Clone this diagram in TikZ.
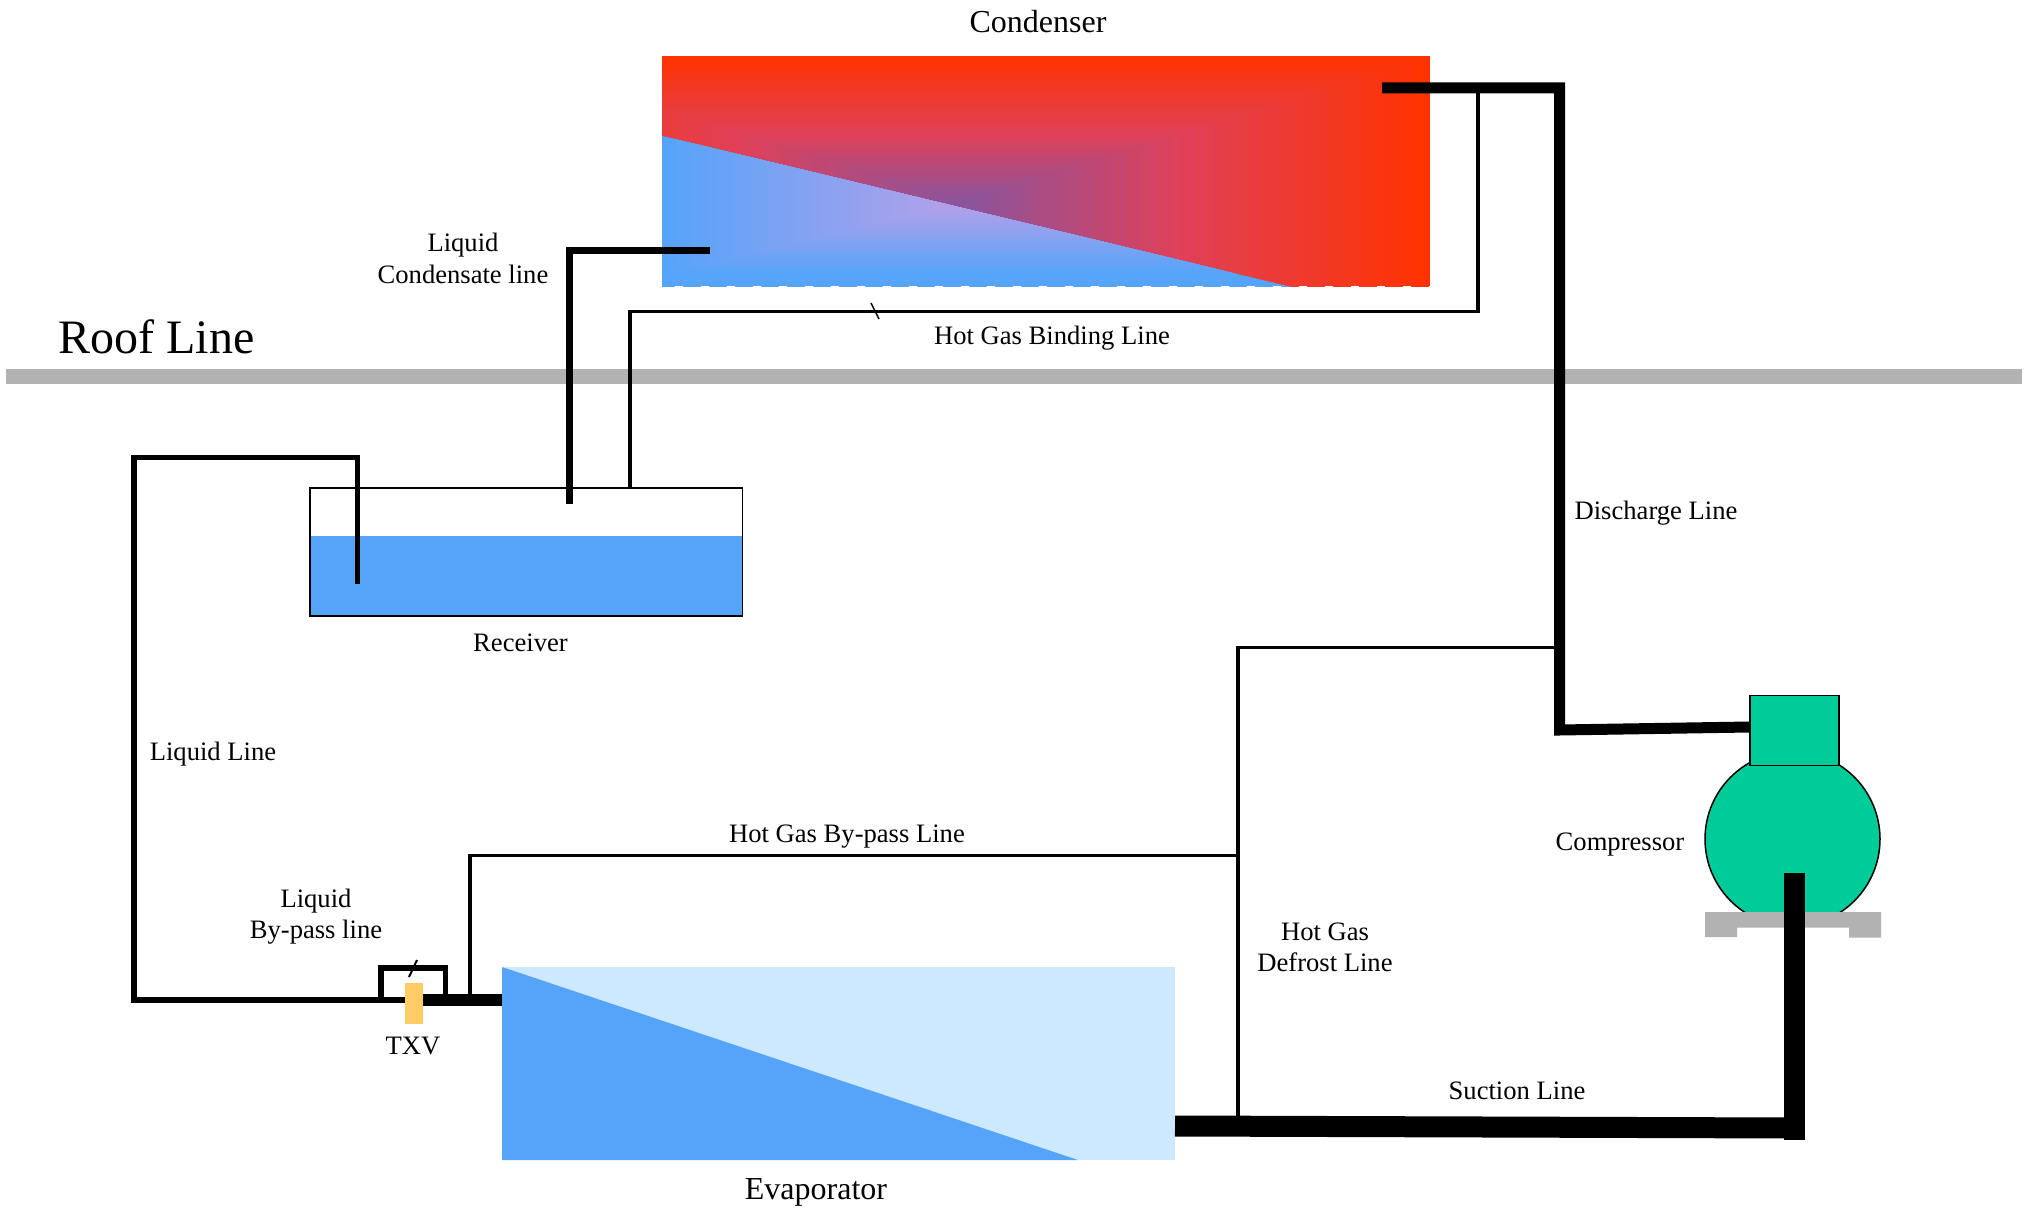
\documentclass[tikz,border=0pt]{standalone}
\usepackage{fontspec}
\setmainfont{Liberation Serif}
\usetikzlibrary{calc}
\definecolor{wblue}{HTML}{55A4FA}
\definecolor{wlight}{HTML}{CCE9FF}
\definecolor{wred}{HTML}{FF3300}
\definecolor{wpink}{HTML}{E04058}
\definecolor{wgreen}{HTML}{00CC99}
\definecolor{wgray}{HTML}{B2B2B2}
\definecolor{wyellow}{HTML}{FFCC66}
\definecolor{midup}{HTML}{8855A0}
\definecolor{midlow}{HTML}{B8A0E8}
\tikzset{
  x=0.5pt,y=-0.5pt,
  lbl/.style={font=\fontsize{13.3}{15.6}\selectfont,align=center,inner sep=0pt},
  biglbl/.style={font=\fontsize{16}{18}\selectfont,inner sep=0pt},
  roof/.style={font=\fontsize{24}{28}\selectfont,inner sep=0pt,anchor=west},
  pipeA/.style={line width=2.75pt,line join=miter},
  pipeL/.style={line width=3.75pt,line join=miter},
  pipeB/.style={line width=5.5pt,line join=miter},
  pipeC/.style={line width=10.5pt},
  pipeT/.style={line width=1.75pt,line join=miter},
  pipeH/.style={line width=1.75pt,line join=miter},
  tick/.style={line width=0.7pt},
  box/.style={inner sep=0pt,outer sep=0pt},
}
\begin{document}
\begin{tikzpicture}
\useasboundingbox (0,0) rectangle (2025,1209);
% Condenser
\begin{scope}
  \clip (662,56) rectangle (1430,287);
  \begin{scope}
    \clip (662,56) -- (1430,56) -- (1430,287) -- (1291.5,287) -- (662,136) -- cycle;
    \foreach \i in {0,...,59}{
      \pgfmathsetmacro{\t}{\i/60}
      \pgfmathsetmacro{\p}{\t<0.52 ? 100*\t/0.52 : 100*(\t-0.52)/0.48}
      \ifdim\t pt<0.52pt
        \colorlet{cc}{wpink!\p!wred}
      \else
        \colorlet{cc}{midup!\p!wpink}
      \fi
      \fill[cc] ({492+\t*469},{56+\t*147}) rectangle ({1430-\t*469},{350-\t*147});
    }
  \end{scope}
  \begin{scope}
    \clip (662,136) -- (1291.5,287) -- (662,287) -- cycle;
    \foreach \i in {0,...,59}{
      \pgfmathsetmacro{\t}{\i/60}
      \pgfmathsetmacro{\p}{100*\t}
      \colorlet{cc}{midlow!\p!wblue}
      \fill[cc] ({662+\t*299},{56+\t*147}) rectangle ({1430-\t*469},{275-\t*72});
    }
    \fill[wblue] (662,275) rectangle (1430,287);
  \end{scope}
\end{scope}
\draw[white,line width=0.5pt,dash pattern=on 4pt off 9pt] (675,286.5) -- (1430,286.5);
\node[box,minimum width=384pt,minimum height=115.5pt] (condenser) at (1046,171.5) {};
\node[biglbl] (condenserlabel) at (1038,22) {Condenser};
% Roof
\fill[wgray] (6,369.5) rectangle (2022,384);
\node[roof] (rooflabel) at (58,336.5) {Roof Line};
% Receiver
\fill[wblue] (310,536) rectangle (742.5,616);
\node[box,draw=black,line width=0.75pt,minimum width=216.25pt,minimum height=64pt] (receiver) at (526.25,552) {};
\node[lbl] (receiverlabel) at (520.5,643) {Receiver};
% Evaporator
\fill[wlight] (502,967) rectangle (1175,1160);
\fill[wblue] (502,967) -- (1078,1160) -- (502,1160) -- cycle;
\node[box,minimum width=336.5pt,minimum height=96.5pt] (evaporator) at (838.5,1063.5) {};
\node[biglbl] (evaporatorlabel) at (816,1192.5) {Evaporator};
% Compressor
\node[circle,draw=black,line width=0.75pt,fill=wgreen,minimum size=87.5pt,inner sep=0pt] (compbody) at (1792.5,839) {};
\node[box,draw=black,line width=0.75pt,fill=wgreen,minimum width=44.5pt,minimum height=35pt] (comphead) at (1794.5,730.5) {};
\fill[wgray] (1705,912) -- (1881,912) -- (1881,937.5) -- (1849,937.5) -- (1849,927.5) -- (1737,927.5) -- (1737,937) -- (1705,937) -- cycle;
% Coordinates
\coordinate (lcA) at (710,250.5);
\coordinate (lcB) at (569.5,250.5);
\coordinate (lcC) at (569.5,503.5);
\coordinate (hbA) at (1478,88);
\coordinate (hbB) at (1478,311.5);
\coordinate (hbC) at (630,311.5);
\coordinate (hbD) at (630,488);
\coordinate (dA) at (1382,88);
\coordinate (dB) at (1559.5,88);
\coordinate (dC) at (1559.5,730);
\coordinate (dD) at (1750,727);
\coordinate (lA) at (357.5,584);
\coordinate (lB) at (357.5,457.5);
\coordinate (lC) at (134,457.5);
\coordinate (lD) at (134,1000);
\coordinate (lE) at (405,1000);
\coordinate (tA) at (422,1000);
\coordinate (tB) at (502,1000);
\coordinate (bA) at (381,1000);
\coordinate (bB) at (381,968);
\coordinate (bC) at (445.5,968);
\coordinate (bD) at (445.5,1000);
\coordinate (gA) at (470,1000);
\coordinate (gB) at (470,855.5);
\coordinate (gC) at (1238,855.5);
\coordinate (fA) at (1238,1122);
\coordinate (fB) at (1238,647.5);
\coordinate (fC) at (1559.5,647.5);
\coordinate (sA) at (1175,1126);
\coordinate (sB) at (1794,1128);
\coordinate (sC) at (1794,873);
\coordinate (sD) at (1794,1140);
% Pipes
\draw[pipeL] (lcA) -- (lcB) -- (lcC);
\draw[pipeT] (hbA) -- (hbB) -- (hbC) -- (hbD);
\draw[pipeB] (dA) -- (dB) -- (dC) -- (dD);
\draw[pipeA] (lA) -- (lB) -- (lC) -- (lD) -- (lE);
\draw[pipeA] (bA) -- (bB) -- (bC) -- (bD);
\draw[pipeH] (gA) -- (gB) -- (gC);
\draw[pipeH] (fA) -- (fB) -- (fC);
\draw[line width=6pt] (tA) -- (tB);
\draw[pipeC] (sA) -- (sB);
\draw[pipeC] (sC) -- (sD);
% TXV
\node[box,fill=wyellow,minimum width=9pt,minimum height=20.5pt] (txv) at (413.75,1003) {};
\node[lbl] (txvlabel) at (413,1045.5) {TXV};
% Ticks
\coordinate (tkA) at (409,977);
\coordinate (tkB) at (417,960);
\coordinate (tkC) at (871,303);
\coordinate (tkD) at (879,319);
\draw[line width=1pt] (tkA) -- (tkB);
\draw[tick] (tkC) -- (tkD);
% Labels
\node[lbl] (liquidcond) at (463,258.5) {Liquid\\Condensate line};
\node[lbl] (hotbinding) at (1052,338.5) {Hot Gas Binding Line};
\node[lbl] (discharge) at (1656,513.5) {Discharge Line};
\node[lbl] (liquidline) at (213,754.5) {Liquid Line};
\node[lbl] (hotbypass) at (847,837) {Hot Gas By-pass Line};
\node[lbl] (compressor) at (1620,844.5) {Compressor};
\node[lbl] (liquidbypass) at (316,916.5) {Liquid\\By-pass line};
\node[lbl] (hotdefrost) at (1325,947) {Hot Gas\\Defrost Line};
\node[lbl] (suction) at (1517,1091) {Suction Line};
\end{tikzpicture}
\end{document}
